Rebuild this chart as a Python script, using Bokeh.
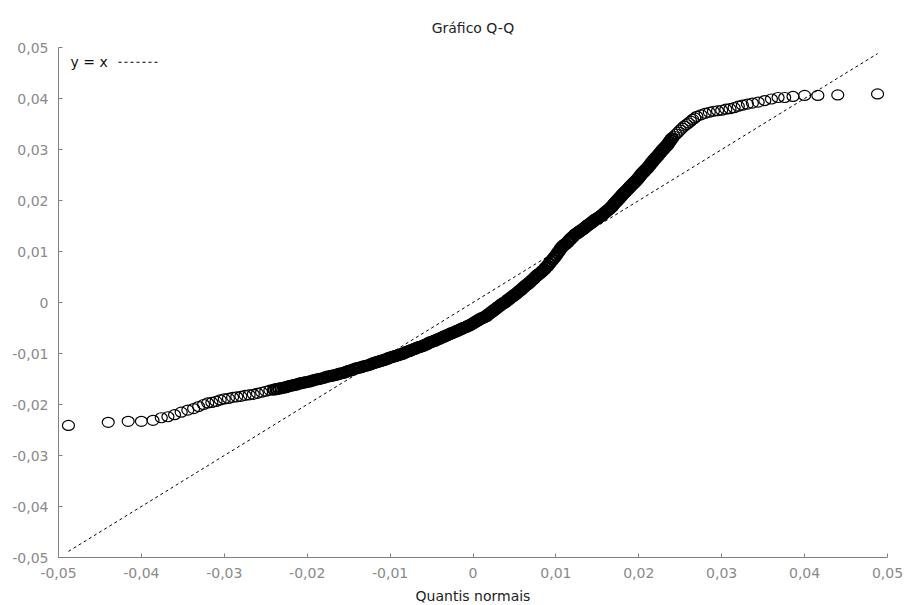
from bokeh.plotting import figure
from bokeh.models import Range1d, FixedTicker, CustomJSTickFormatter, Label, Arrow, ColumnDataSource
from bokeh.embed import file_html
from bokeh.resources import INLINE

TITLE = "Gráfico Q-Q"
X_LABEL = "Quantis normais"
LEGEND_LABEL = "y = x"
TICKS = [-0.05, -0.04, -0.03, -0.02, -0.01, 0.0, 0.01, 0.02, 0.03, 0.04, 0.05]

# normal quantiles (x) and sorted sample values (y)
TAIL_LEFT_X = [-0.0488, -0.0440, -0.0416, -0.0400, -0.0386, -0.0376, -0.0368, -0.0360, -0.0352, -0.0344, -0.0337, -0.0331, -0.0325]
TAIL_LEFT_Y = [-0.0241, -0.0235, -0.0233, -0.0233, -0.0231, -0.0226, -0.0224, -0.0220, -0.0215, -0.0211, -0.0208, -0.0204, -0.0200]

MID_LEFT_X = [-0.0320, -0.0315, -0.0310, -0.0305, -0.0300, -0.0295, -0.0290, -0.0285, -0.0280, -0.0275, -0.0270, -0.0265, -0.0260, -0.0255, -0.0250, -0.0245]
MID_LEFT_Y = [-0.0197, -0.0196, -0.0194, -0.0191, -0.0189, -0.0188, -0.0186, -0.0185, -0.0184, -0.0182, -0.0181, -0.0180, -0.0178, -0.0176, -0.0174, -0.0172]

INNER_LEFT_X = [-0.0240, -0.0237, -0.0234, -0.0231, -0.0228, -0.0225, -0.0222, -0.0219, -0.0216, -0.0213,
                -0.0210, -0.0207, -0.0204, -0.0201, -0.0198, -0.0195, -0.0192, -0.0189, -0.0186, -0.0183,
                -0.0180, -0.0177, -0.0174, -0.0171, -0.0168, -0.0165, -0.0162, -0.0159, -0.0156, -0.0153,
                -0.0150, -0.0147, -0.0144, -0.0141, -0.0138, -0.0135, -0.0132, -0.0129, -0.0126, -0.0123]
INNER_LEFT_Y = [-0.0171, -0.0170, -0.0169, -0.0168, -0.0167, -0.0166, -0.0164, -0.0163, -0.0162, -0.0161,
                -0.0159, -0.0158, -0.0157, -0.0156, -0.0155, -0.0154, -0.0152, -0.0151, -0.0150, -0.0149,
                -0.0148, -0.0146, -0.0145, -0.0144, -0.0143, -0.0142, -0.0140, -0.0139, -0.0138, -0.0136,
                -0.0134, -0.0133, -0.0131, -0.0129, -0.0128, -0.0127, -0.0125, -0.0124, -0.0123, -0.0121]

CENTER_X = [-0.0120, -0.0118, -0.0116, -0.0114, -0.0112, -0.0110, -0.0108, -0.0106, -0.0104, -0.0102,
            -0.0100, -0.0098, -0.0096, -0.0094, -0.0092, -0.0090, -0.0088, -0.0086, -0.0084, -0.0082,
            -0.0080, -0.0078, -0.0076, -0.0074, -0.0072, -0.0070, -0.0068, -0.0066, -0.0064, -0.0062,
            -0.0060, -0.0058, -0.0056, -0.0054, -0.0052, -0.0050, -0.0048, -0.0046, -0.0044, -0.0042,
            -0.0040, -0.0038, -0.0036, -0.0034, -0.0032, -0.0030, -0.0028, -0.0026, -0.0024, -0.0022,
            -0.0020, -0.0018, -0.0016, -0.0014, -0.0012, -0.0010, -0.0008, -0.0006, -0.0004, -0.0002,
            0.0000, 0.0002, 0.0004, 0.0006, 0.0008, 0.0010, 0.0012, 0.0014, 0.0016, 0.0018,
            0.0020, 0.0022, 0.0024, 0.0026, 0.0028, 0.0030, 0.0032, 0.0034, 0.0036, 0.0038,
            0.0040, 0.0042, 0.0044, 0.0046, 0.0048, 0.0050, 0.0052, 0.0054, 0.0056, 0.0058,
            0.0060, 0.0062, 0.0064, 0.0066, 0.0068, 0.0070, 0.0072, 0.0074, 0.0076, 0.0078,
            0.0080, 0.0082, 0.0084, 0.0086, 0.0088, 0.0090, 0.0092, 0.0094, 0.0096, 0.0098,
            0.0100, 0.0102, 0.0104, 0.0106, 0.0108, 0.0110, 0.0112, 0.0114, 0.0116, 0.0118,
            0.0120]
CENTER_Y = [-0.0119, -0.0118, -0.0117, -0.0116, -0.0115, -0.0114, -0.0113, -0.0112, -0.0111, -0.0109,
            -0.0108, -0.0107, -0.0106, -0.0105, -0.0104, -0.0103, -0.0102, -0.0101, -0.0100, -0.0098,
            -0.0097, -0.0096, -0.0095, -0.0093, -0.0092, -0.0091, -0.0089, -0.0088, -0.0087, -0.0086,
            -0.0085, -0.0083, -0.0082, -0.0080, -0.0078, -0.0077, -0.0076, -0.0075, -0.0073, -0.0072,
            -0.0071, -0.0069, -0.0068, -0.0066, -0.0065, -0.0063, -0.0062, -0.0060, -0.0059, -0.0058,
            -0.0056, -0.0055, -0.0053, -0.0052, -0.0050, -0.0049, -0.0048, -0.0046, -0.0045, -0.0043,
            -0.0041, -0.0039, -0.0037, -0.0035, -0.0033, -0.0031, -0.0030, -0.0028, -0.0027, -0.0024,
            -0.0022, -0.0019, -0.0017, -0.0014, -0.0012, -0.0009, -0.0007, -0.0004, -0.0002, 0.0000,
            0.0002, 0.0005, 0.0007, 0.0010, 0.0012, 0.0015, 0.0017, 0.0020, 0.0023, 0.0025,
            0.0028, 0.0031, 0.0034, 0.0036, 0.0039, 0.0042, 0.0045, 0.0048, 0.0051, 0.0054,
            0.0056, 0.0059, 0.0062, 0.0065, 0.0069, 0.0072, 0.0076, 0.0080, 0.0084, 0.0088,
            0.0092, 0.0097, 0.0101, 0.0106, 0.0110, 0.0113, 0.0115, 0.0118, 0.0122, 0.0125,
            0.0128]

INNER_RIGHT_X = [0.0123, 0.0126, 0.0129, 0.0132, 0.0135, 0.0138, 0.0141, 0.0144, 0.0147, 0.0150,
                 0.0153, 0.0156, 0.0159, 0.0162, 0.0165, 0.0168, 0.0171, 0.0174, 0.0177, 0.0180,
                 0.0183, 0.0186, 0.0189, 0.0192, 0.0195, 0.0198, 0.0201, 0.0204, 0.0207, 0.0210,
                 0.0213, 0.0216, 0.0219, 0.0222, 0.0225, 0.0228, 0.0231, 0.0234, 0.0237, 0.0240]
INNER_RIGHT_Y = [0.0133, 0.0136, 0.0140, 0.0143, 0.0147, 0.0151, 0.0154, 0.0158, 0.0162, 0.0165,
                 0.0168, 0.0172, 0.0176, 0.0180, 0.0184, 0.0189, 0.0195, 0.0200, 0.0205, 0.0211,
                 0.0216, 0.0221, 0.0226, 0.0231, 0.0236, 0.0241, 0.0247, 0.0253, 0.0258, 0.0263,
                 0.0269, 0.0275, 0.0281, 0.0286, 0.0292, 0.0298, 0.0303, 0.0308, 0.0315, 0.0322]

INNER_RIGHT_B_X = [0.01245, 0.01275, 0.01305, 0.01335, 0.01365, 0.01395, 0.01425, 0.01455, 0.01485, 0.01515,
                   0.01545, 0.01575, 0.01605, 0.01635, 0.01665, 0.01695, 0.01725, 0.01755, 0.01785, 0.01815,
                   0.01845, 0.01875, 0.01905, 0.01935, 0.01965, 0.01995, 0.02025, 0.02055, 0.02085, 0.02115,
                   0.02145, 0.02175, 0.02205, 0.02235, 0.02265, 0.02295, 0.02325, 0.02355, 0.02385]
INNER_RIGHT_B_Y = [0.01345, 0.01380, 0.01415, 0.01450, 0.01490, 0.01525, 0.01560, 0.01600, 0.01635, 0.01665,
                   0.01700, 0.01740, 0.01780, 0.01820, 0.01865, 0.01920, 0.01975, 0.02025, 0.02080, 0.02135,
                   0.02185, 0.02235, 0.02285, 0.02335, 0.02385, 0.02440, 0.02500, 0.02555, 0.02605, 0.02660,
                   0.02720, 0.02780, 0.02835, 0.02890, 0.02950, 0.03005, 0.03055, 0.03115, 0.03185]

MID_RIGHT_X = [0.0245, 0.0250, 0.0255, 0.0260, 0.0265, 0.0270, 0.0275, 0.0280, 0.0285, 0.0290, 0.0295, 0.0300, 0.0305, 0.0310, 0.0315, 0.0320]
MID_RIGHT_Y = [0.0330, 0.0338, 0.0346, 0.0352, 0.0359, 0.0365, 0.0368, 0.0371, 0.0373, 0.0375, 0.0376, 0.0377, 0.0379, 0.0380, 0.0382, 0.0385]

MID_RIGHT_B_X = [0.02425, 0.02475, 0.02525, 0.02575, 0.02625, 0.02675]
MID_RIGHT_B_Y = [0.03260, 0.03340, 0.03420, 0.03490, 0.03555, 0.03620]

TAIL_RIGHT_X = [0.0325, 0.0331, 0.0337, 0.0344, 0.0352, 0.0360, 0.0368, 0.0376, 0.0386, 0.0400, 0.0416, 0.0440, 0.0488]
TAIL_RIGHT_Y = [0.0387, 0.0389, 0.0391, 0.0393, 0.0396, 0.0399, 0.0402, 0.0402, 0.0404, 0.0406, 0.0406, 0.0407, 0.0409]

dense_x = INNER_LEFT_X + CENTER_X + INNER_RIGHT_X + INNER_RIGHT_B_X
dense_y = INNER_LEFT_Y + CENTER_Y + INNER_RIGHT_Y + INNER_RIGHT_B_Y
sparse_x = TAIL_LEFT_X + MID_LEFT_X + MID_RIGHT_X + MID_RIGHT_B_X + TAIL_RIGHT_X
sparse_y = TAIL_LEFT_Y + MID_LEFT_Y + MID_RIGHT_Y + MID_RIGHT_B_Y + TAIL_RIGHT_Y
all_x = dense_x + sparse_x

FONT = "DejaVu Sans"
GREY = "#8a8a8a"

p = figure(frame_width=829, frame_height=510,
           min_border_left=58, min_border_right=18, min_border_top=47, min_border_bottom=0,
           x_range=Range1d(-0.05, 0.05), y_range=Range1d(-0.05, 0.05),
           output_backend="svg", toolbar_location=None, title=TITLE)

p.title.align = "center"
p.title.text_font = FONT
p.title.text_font_size = "14px"
p.title.text_font_style = "normal"
p.title.text_color = "#222222"
p.title.standoff = 24

p.outline_line_color = None
p.xgrid.visible = False
p.ygrid.visible = False
p.background_fill_color = "white"
p.border_fill_color = "white"

fmt = CustomJSTickFormatter(code="""
if (Math.abs(tick) < 1e-9) { return "0"; }
return tick.toFixed(2).replace(".", ",");
""")

for ax in (p.xaxis[0], p.yaxis[0]):
    ax.ticker = FixedTicker(ticks=TICKS)
    ax.formatter = fmt
    ax.minor_tick_line_color = None
    ax.major_tick_in = 4
    ax.major_tick_out = 0
    ax.axis_line_color = "#808080"
    ax.major_tick_line_color = "#808080"
    ax.major_label_text_color = GREY
    ax.major_label_text_font = FONT
    ax.major_label_text_font_size = "14px"

p.xaxis.major_label_standoff = 10
p.yaxis.major_label_standoff = 10
p.xaxis.axis_label = X_LABEL
p.xaxis.axis_label_text_font = FONT
p.xaxis.axis_label_text_font_size = "14px"
p.xaxis.axis_label_text_font_style = "normal"
p.xaxis.axis_label_text_color = "#222222"
p.xaxis.axis_label_standoff = 7

# y = x reference line across the range of the normal quantiles
lo, hi = min(all_x), max(all_x)
p.line(x=[lo, hi], y=[lo, hi], line_color="black", line_width=1, line_dash="3 3")

p.ellipse(x="x", y="y", width=12, height=10, width_units="screen", height_units="screen",
          source=ColumnDataSource(data=dict(x=sparse_x, y=sparse_y)),
          fill_color=None, line_color="black", line_width=1.2)
p.ellipse(x="x", y="y", width=12, height=10, width_units="screen", height_units="screen",
          source=ColumnDataSource(data=dict(x=dense_x, y=dense_y)),
          fill_color=None, line_color="black", line_width=2.2)

# legend (label left, dashed sample right)
p.add_layout(Label(x=-0.04855, y=0.0471, text=LEGEND_LABEL, text_font=FONT,
                   text_font_size="14px", text_color="#111111", text_baseline="middle"))
p.add_layout(Arrow(end=None, start=None, x_start=-0.04276, y_start=0.0471, x_end=-0.0377, y_end=0.0471,
                   line_color="black", line_width=1, line_dash="3 3"))

open("out.html", "w").write(file_html(p, INLINE))
